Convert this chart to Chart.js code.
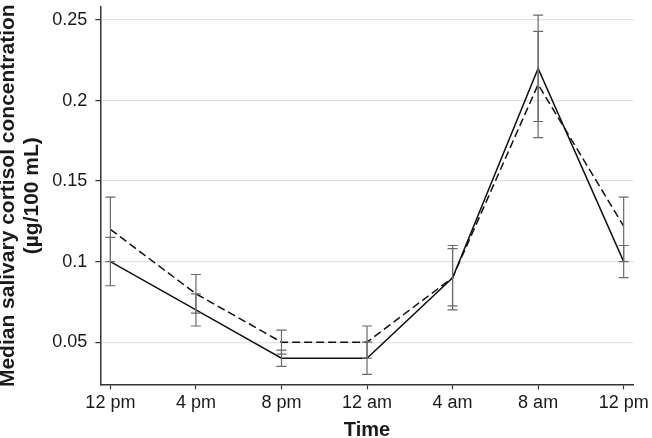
<!DOCTYPE html>
<html>
<head>
<meta charset="utf-8">
<script src="https://cdn.jsdelivr.net/npm/chart.js@4/dist/chart.umd.min.js"></script>
<style>
  html, body { margin: 0; padding: 0; background: #fff; }
  #wrap { width: 652px; height: 438px; }
</style>
</head>
<body>
<div id="wrap"><canvas id="cortisol"></canvas></div>
<script>
// hours since 12 pm
const hours = [0, 4, 8, 12, 16, 20, 24];
const timeLabels = ['12 pm', '4 pm', '8 pm', '12 am', '4 am', '8 am', '12 pm'];
const yTicks = [0.05, 0.1, 0.15, 0.2, 0.25];

// solid series
const solidMedian = [0.1, 0.07, 0.04, 0.04, 0.09, 0.22, 0.1];
const solidLow = [0.085, 0.06, 0.035, 0.03, 0.07, 0.187, 0.09];
const solidHigh = [0.115, 0.08, 0.045, 0.05, 0.11, 0.253, 0.11];

// dashed series
const dashedMedian = [0.12, 0.08, 0.05, 0.05, 0.09, 0.21, 0.122];
const dashedLow = [0.1, 0.068, 0.0425, 0.04, 0.0725, 0.177, 0.1];
const dashedHigh = [0.14, 0.092, 0.0575, 0.06, 0.108, 0.243, 0.14];

const toPoints = (vals) => vals.map((v, i) => ({ x: hours[i], y: v }));

// whiskers drawn through the chart's own scales
const errorBars = {
    id: 'errorBars',
    afterDatasetsDraw(chart) {
        const { ctx, scales: { x, y } } = chart;
        const sets = [[solidLow, solidHigh], [dashedLow, dashedHigh]];
        ctx.save();
        ctx.strokeStyle = '#6b6b6b';
        ctx.lineWidth = 1.2;
        sets.forEach(([lo, hi]) => {
            hours.forEach((h, i) => {
                const px = x.getPixelForValue(h);
                const top = y.getPixelForValue(hi[i]);
                const bot = y.getPixelForValue(lo[i]);
                ctx.beginPath();
                ctx.moveTo(px, top); ctx.lineTo(px, bot);
                ctx.moveTo(px - 5, top); ctx.lineTo(px + 5, top);
                ctx.moveTo(px - 5, bot); ctx.lineTo(px + 5, bot);
                ctx.stroke();
            });
        });
        ctx.restore();
    }
};

const tickFont = { family: 'Liberation Sans, Arial', size: 18 };

const ctx = document.querySelector('#cortisol');
new Chart(ctx, {
    type: 'line',
    data: {
        datasets: [
            {
                data: toPoints(solidMedian),
                borderColor: '#111',
                borderWidth: 1.5,
                pointRadius: 0,
                tension: 0
            },
            {
                data: toPoints(dashedMedian),
                borderColor: '#111',
                borderWidth: 1.5,
                borderDash: [8, 4],
                pointRadius: 0,
                tension: 0
            }
        ]
    },
    options: {
        responsive: true,
        maintainAspectRatio: false,
        animation: false,
        layout: { padding: { top: 7, right: 17, left: -4, bottom: -4 } },
        plugins: {
            legend: { display: false },
            tooltip: { enabled: false }
        },
        scales: {
            x: {
                type: 'linear',
                min: -0.47,
                max: 24.47,
                afterBuildTicks: (axis) => { axis.ticks = hours.map(v => ({ value: v })); },
                ticks: {
                    color: '#1a1a1a',
                    font: tickFont,
                    maxRotation: 0,
                    padding: 3,
                    callback: (v) => timeLabels[hours.indexOf(v)]
                },
                grid: {
                    drawOnChartArea: false,
                    tickLength: 5,
                    tickColor: '#333',
                    tickWidth: 1.2
                },
                border: { color: '#333', width: 1.5 },
                title: {
                    display: true,
                    text: 'Time',
                    color: '#1a1a1a',
                    font: { family: 'Liberation Sans, Arial', size: 20, weight: 'bold', lineHeight: 1.2 },
                    padding: { top: 1, bottom: 0 }
                }
            },
            y: {
                min: 0.02375,
                max: 0.2581,
                afterBuildTicks: (axis) => { axis.ticks = yTicks.map(v => ({ value: v })); },
                // top tick sits below the axis end, so no label overflow padding needed
                afterFit: (axis) => { axis.paddingTop = 0; },
                ticks: {
                    color: '#1a1a1a',
                    font: tickFont,
                    padding: 8,
                    callback: (v) => String(v)
                },
                grid: {
                    color: '#e3e3e3',
                    lineWidth: 1.2,
                    tickLength: 5,
                    tickColor: '#333',
                    tickWidth: 1.2
                },
                border: { color: '#333', width: 1.5 },
                title: {
                    display: true,
                    text: ['Median salivary cortisol concentration', '(µg/100 mL)'],
                    color: '#1a1a1a',
                    font: { family: 'Liberation Sans, Arial', size: 21, weight: 'bold', lineHeight: 1.15 },
                    padding: { top: 0, bottom: 0 }
                }
            }
        }
    },
    plugins: [errorBars]
});
</script>
</body>
</html>
